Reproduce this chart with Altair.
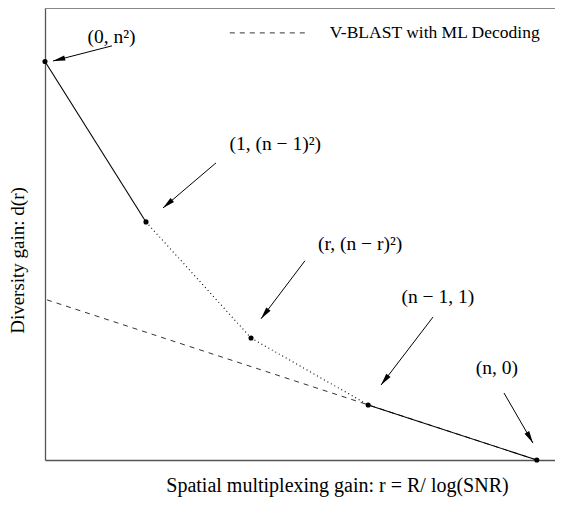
import altair as alt
import pandas as pd
import numpy as np

FONT = "Liberation Serif"

# key points of the diversity-multiplexing tradeoff curve (plot units)
pt_label = ["(0, n²)", "(1, (n − 1)²)", "(r, (n − r)²)", "(n − 1, 1)", "(n, 0)"]
pt_r = [0.0, 1.0, 2.04, 3.20, 4.87]
pt_d = [16.0, 9.56, 4.90, 2.21, 0.0]

# style of each segment between consecutive points
seg_style = ["solid", "dotted", "dotted", "solid"]

# V-BLAST with ML decoding line
vb_r = [0.02, 4.87]
vb_d = [6.43, 0.0]

# annotation label positions
lab_r = [0.658, 2.28, 3.12, 3.89, 4.475]
lab_d = [16.99, 12.69, 8.67, 6.55, 3.69]

# arrows: tail -> head
arr_r0 = [0.663, 1.693, 2.574, 3.842, 4.545]
arr_d0 = [16.63, 11.93, 8.00, 5.74, 2.69]
arr_r1 = [0.079, 1.168, 2.139, 3.327, 4.832]
arr_d1 = [16.02, 10.12, 5.67, 3.01, 0.68]

# legend
leg_r = [1.83, 2.62]
leg_d = [17.15, 17.15]
leg_text = "V-BLAST with ML Decoding"
leg_text_r = 2.82

R_MAX = 5.05
D_MAX = 18.15
W, H = 510, 452

xs = alt.Scale(domain=[0, R_MAX], nice=False, zero=False)
ys = alt.Scale(domain=[0, D_MAX], nice=False, zero=False)

X_AX = alt.Axis(domain=True, ticks=False, labels=False, grid=False,
                title="Spatial multiplexing gain: r = R/ log(SNR)",
                titleFont=FONT, titleFontSize=20, titleFontWeight="normal",
                titleColor="black", titleAlign="center", titleBaseline="middle",
                titleX=292, titleY=25, domainColor="#555", domainWidth=1.3)
Y_AX = alt.Axis(domain=True, ticks=False, labels=False, grid=False,
                title="Diversity gain: d(r)",
                titleFont=FONT, titleFontSize=19, titleFontWeight="normal",
                titleColor="black", titleAlign="center", titleBaseline="middle",
                titleAngle=270, titleX=-28, titleY=252,
                domainColor="#555", domainWidth=1.3)

# segments
seg_rows = []
for i, s in enumerate(seg_style):
    for j in (i, i + 1):
        seg_rows.append({"seg": i, "style": s, "r": pt_r[j], "d": pt_d[j], "o": j})
seg_df = pd.DataFrame(seg_rows)

pts_df = pd.DataFrame({"r": pt_r, "d": pt_d, "label": pt_label})
vb_df = pd.DataFrame({"r": vb_r, "d": vb_d})
lab_df = pd.DataFrame({"r": lab_r, "d": lab_d, "label": pt_label})
leg_df = pd.DataFrame({"r": leg_r, "d": leg_d})
legt_df = pd.DataFrame({"r": [leg_text_r], "d": [leg_d[0]], "t": [leg_text]})

px_r = W / R_MAX
px_d = H / D_MAX
arr_rows = []
for i in range(len(arr_r0)):
    dx = (arr_r1[i] - arr_r0[i]) * px_r
    dy = -(arr_d1[i] - arr_d0[i]) * px_d
    ang = float(np.degrees(np.arctan2(dx, -dy)) % 360)
    arr_rows.append({"a": i, "r": arr_r0[i], "d": arr_d0[i],
                     "r2": arr_r1[i], "d2": arr_d1[i], "ang": ang})
arr_df = pd.DataFrame(arr_rows)

base_x = alt.X("r:Q", scale=xs, axis=X_AX)
base_y = alt.Y("d:Q", scale=ys, axis=Y_AX)

solid = alt.Chart(seg_df).transform_filter(alt.datum.style == "solid").mark_line(
    color="black", strokeWidth=1.1).encode(x=base_x, y=base_y, detail="seg:N", order="o:Q")

dotted = alt.Chart(seg_df).transform_filter(alt.datum.style == "dotted").mark_line(
    color="black", strokeWidth=1.1, strokeDash=[1, 3]).encode(
    x=alt.X("r:Q", scale=xs), y=alt.Y("d:Q", scale=ys), detail="seg:N", order="o:Q")

vblast = alt.Chart(vb_df).mark_line(color="#333", strokeWidth=1, strokeDash=[5, 5]).encode(
    x=alt.X("r:Q", scale=xs), y=alt.Y("d:Q", scale=ys))

dots = alt.Chart(pts_df).mark_point(filled=True, color="black", size=26, opacity=1).encode(
    x=alt.X("r:Q", scale=xs), y=alt.Y("d:Q", scale=ys))

labels = alt.Chart(lab_df).mark_text(font=FONT, fontSize=19.5, color="black",
                                     align="center", baseline="middle").encode(
    x=alt.X("r:Q", scale=xs), y=alt.Y("d:Q", scale=ys), text="label:N")

shafts = alt.Chart(arr_df).mark_rule(color="black", strokeWidth=1).encode(
    x=alt.X("r:Q", scale=xs), y=alt.Y("d:Q", scale=ys), x2="r2:Q", y2="d2:Q")

heads = alt.Chart(arr_df).mark_point(
    shape="M0,0L0.22,1L-0.22,1Z", filled=True, color="black", size=600, opacity=1,
    strokeWidth=0).encode(
    x=alt.X("r2:Q", scale=xs), y=alt.Y("d2:Q", scale=ys), angle=alt.Angle("ang:Q", scale=None))

legend_line = alt.Chart(leg_df).mark_line(color="#333", strokeWidth=1, strokeDash=[5, 5]).encode(
    x=alt.X("r:Q", scale=xs), y=alt.Y("d:Q", scale=ys))
legend_text = alt.Chart(legt_df).mark_text(font=FONT, fontSize=17.5, color="black",
                                           align="left", baseline="middle").encode(
    x=alt.X("r:Q", scale=xs), y=alt.Y("d:Q", scale=ys), text="t:N")

top_frame = alt.Chart(pd.DataFrame({"d": [D_MAX]})).mark_rule(color="#888", strokeWidth=2).encode(
    y=alt.Y("d:Q", scale=ys), x=alt.value(0), x2=alt.value(W))

chart = alt.layer(
    top_frame, vblast, solid, dotted, dots, shafts, heads, labels, legend_line, legend_text
).properties(
    width=W, height=H,
    autosize=alt.AutoSizeParams(type="none"),
    padding={"left": 37, "top": 0, "right": 0, "bottom": 37},
).configure_view(stroke=None).configure(background="white")

chart.save("out.html", embed_options={"renderer": "svg", "actions": False})
